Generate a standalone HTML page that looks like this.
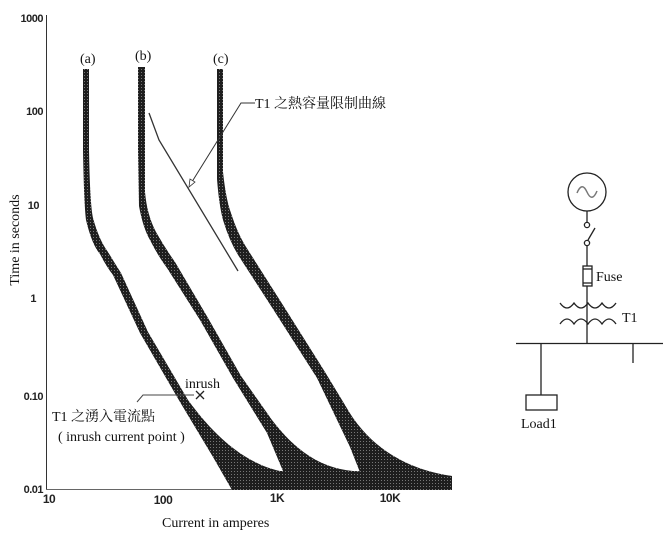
<!DOCTYPE html>
<html><head><meta charset="utf-8"><style>
body{margin:0;background:#fff;width:670px;height:541px;overflow:hidden}
svg{display:block}
.s{font-family:"Liberation Serif","Noto Serif CJK SC",serif;fill:#111}
.a{font-family:"Liberation Sans",sans-serif;font-weight:bold;font-size:11px;fill:#222;letter-spacing:-0.5px}
</style></head><body>
<svg width="670" height="541" viewBox="0 0 670 541">
<defs>
<pattern id="h" width="3" height="3" patternUnits="userSpaceOnUse">
<rect width="3" height="3" fill="#1e1e1e"/><rect width="1" height="1" fill="#777"/>
</pattern>
</defs>
<line x1="46.5" y1="15" x2="46.5" y2="490" stroke="#333" stroke-width="1"/>
<line x1="46" y1="489.5" x2="232" y2="489.5" stroke="#666" stroke-width="1"/>
<g class="a" text-anchor="end">
<text x="43" y="22">1000</text><text x="43" y="115">100</text><text x="39" y="209">10</text>
<text x="36" y="302">1</text><text x="43" y="400">0.10</text><text x="43" y="493">0.01</text>
</g>
<g class="a" text-anchor="middle" style="font-size:12px">
<text x="49" y="503">10</text><text x="163" y="504">100</text><text x="277" y="502">1K</text><text x="390" y="502">10K</text>
</g>
<text class="s" font-size="14" transform="translate(19,240) rotate(-90)" text-anchor="middle">Time in seconds</text>
<text class="s" font-size="14" x="162" y="527">Current in amperes</text>
<g fill="url(#h)">
<path d="M83,69 L83,150 Q84,205 86,220 Q92,245 100,254 Q106,266 113,275 L140,333 L180,402 L213,457 L232,490 L452,490 L452,476 L417,473 L353,471 L283,471 L280,471 C240,462 210,430 188,400 L148,332 L121,273 Q114,262 108,252 Q99,240 93,218 Q90,205 89,150 L89,69 Z"/>
<path d="M138,67 L138,150 L139,206 Q143,228 150,240 Q158,256 167,268 L200,320 L233,378 L267,433 L283,471 L353,471 C320,468 295,450 272,420 L241,376 L208,318 L175,262 Q165,248 156,232 Q147,215 145,192 L145,67 Z"/>
<path d="M217,69 L217,179 Q219,205 223,220 Q230,243 240,258 L273,309 L317,378 L350,447 L367,490 L452,490 L452,476 C410,470 370,450 345,405 L325,372 L281,302 L248,250 Q238,235 231,213 Q226,200 223,172 L223,69 Z"/>
</g>
<g class="s" font-size="14"><text x="80" y="63">(a)</text><text x="135" y="60">(b)</text><text x="213" y="63">(c)</text></g>
<polyline points="149,113 159,140 238,271" fill="none" stroke="#333" stroke-width="1.3"/>
<polyline points="255,103 241,103 190,185" fill="none" stroke="#333" stroke-width="1"/>
<path d="M189,187 L190,179 L195,182 Z" fill="#fff" stroke="#333" stroke-width="0.8"/>
<text class="s" font-size="14" x="255" y="108">T1 之熱容量限制曲線</text>
<text class="s" font-size="14" x="185" y="388">inrush</text>
<polyline points="137,402 143,395 194,395" fill="none" stroke="#444" stroke-width="1"/>
<path d="M196,391 L204,399 M196,399 L204,391" stroke="#222" stroke-width="1.3"/>
<text class="s" font-size="14" x="52" y="421">T1 之湧入電流點</text>
<text class="s" font-size="14" x="58" y="441">( inrush current point )</text>
<g stroke="#222" stroke-width="1.3" fill="none">
<circle cx="587" cy="192" r="19"/>
<path d="M577,193 Q582,181 587,192 Q592,203 597,191" stroke="#777" stroke-width="1.5"/>
<line x1="587" y1="211" x2="587" y2="222"/>
<circle cx="587" cy="225" r="2.6"/>
<circle cx="587" cy="243" r="2.6"/>
<line x1="588" y1="240" x2="595" y2="228"/>
<line x1="587" y1="246" x2="587" y2="266"/>
<rect x="583" y="266" width="9" height="20"/>
<line x1="583" y1="269" x2="592" y2="269"/><line x1="583" y1="283" x2="592" y2="283"/>
<line x1="587" y1="286" x2="587" y2="343"/>
<path d="M560,303 Q567,313 574,303 Q581,313 588,303 Q595,313 602,303 Q609,313 616,303"/>
<path d="M560,324 Q567,314 574,324 Q581,314 588,324 Q595,314 602,324 Q609,314 616,324"/>
<line x1="516" y1="343.5" x2="663" y2="343.5"/>
<line x1="541" y1="343" x2="541" y2="395"/>
<line x1="633" y1="343" x2="633" y2="363"/>
<rect x="526" y="395" width="31" height="15"/>
</g>
<g class="s" font-size="14"><text x="596" y="281">Fuse</text><text x="622" y="322">T1</text><text x="521" y="428">Load1</text></g>
</svg>
</body></html>
